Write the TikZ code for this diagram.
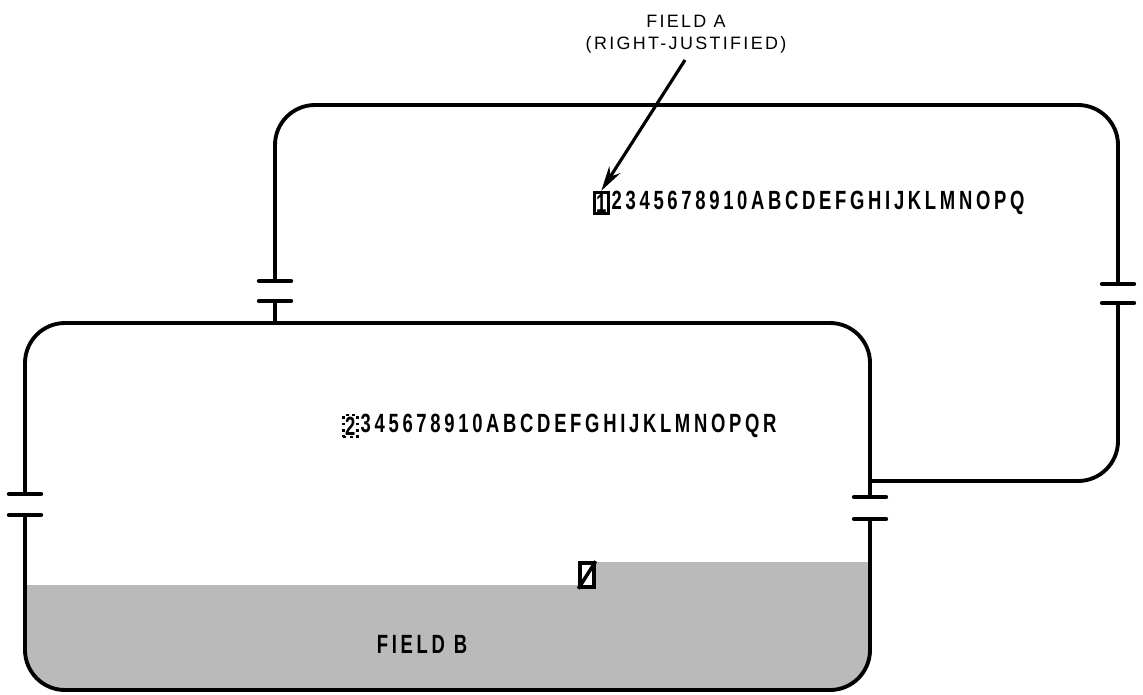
\documentclass[tikz,border=0pt]{standalone}
\usepackage{fontspec}
\setsansfont{Liberation Sans}
\newfontfamily\fieldfont{Liberation Sans}[FakeStretch=0.7,LetterSpace=14]
\newfontfamily\notefont{Liberation Sans}[LetterSpace=13]
\usetikzlibrary{positioning,arrows.meta}

\begin{document}
\begin{tikzpicture}[x=0.02cm,y=-0.02cm,
  wall/.style={line width=2.2pt,line cap=round,rounded corners=0.8cm},
  gapbar/.style={line width=2.5pt,line cap=round},
  rowtext/.style={font=\fieldfont\bfseries\fontsize{15}{18}\selectfont,inner sep=1pt},
  notetext/.style={font=\notefont\fontsize{10.2}{12}\selectfont,inner sep=0pt}]
\useasboundingbox (0,0) rectangle (1143,694);

% field B shading
\begin{scope}
\clip[rounded corners=0.8cm] (25,323) rectangle (870,690);
\fill[black!27] (25,585) rectangle (580,700);
\fill[black!27] (580,562) rectangle (880,700);
\end{scope}

% gap points
\coordinate (bl1) at (275,281); \coordinate (bl2) at (275,301);
\coordinate (br1) at (1118,284); \coordinate (br2) at (1118,303);
\coordinate (fl1) at (25,494); \coordinate (fl2) at (25,515);
\coordinate (fr1) at (870,497); \coordinate (fr2) at (870,519);

% back record
\draw[wall] (bl1) -- (275,105) -- (1118,105) -- (br1);
\draw[wall] (br2) -- (1118,481) -- (870,481);
\draw[wall] (bl2) -- (275,323);
% front record
\draw[wall] (fl1) -- (25,323) -- (870,323) -- (fr1);
\draw[wall] (fr2) -- (870,690) -- (25,690) -- (fl2);
\foreach \p in {bl1,bl2,br1,br2,fl1,fl2,fr1,fr2}
  \draw[gapbar] (\p) ++(-16,0) -- ++(32,0);

% record contents
\node[rowtext,draw,line width=1.6pt,anchor=west] (akey) at (593,203) {1};
\node[rowtext,right=0pt of akey] (arow) {2345678910ABCDEFGHIJKLMNOPQ};
\node[rowtext,draw,dotted,line width=1.6pt,anchor=west] (bkey) at (342,426) {2};
\node[rowtext,right=0pt of bkey] (brow) {345678910ABCDEFGHIJKLMNOPQR};

% labels
\node[notetext] (fielda) at (686,21) {FIELD A};
\node[notetext] (rjust) at (686,45) {(RIGHT-JUSTIFIED)};
\coordinate (atail) at (685,60);
\draw[line width=1.8pt,-{Stealth[length=0.5cm,width=0.26cm]}] (atail) -- (akey.north);

\node[draw,line width=2pt,fill=white,minimum width=0.28cm,minimum height=0.48cm,inner sep=0pt] (blank) at (587,575) {};
\draw[line width=2pt] (blank.south west) -- (blank.north east);
\node[rowtext] (fieldb) at (422,644) {FIELD B};
\end{tikzpicture}
\end{document}
